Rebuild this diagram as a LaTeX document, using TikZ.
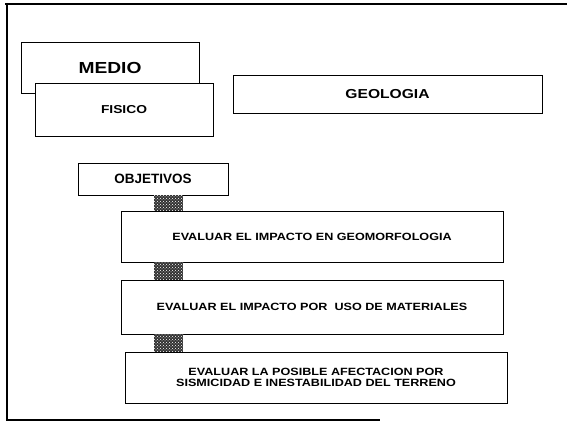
\documentclass[tikz,border=0pt]{standalone}
\usepackage{fontspec}
\setmainfont{Liberation Sans}
\newfontfamily\widebold[FakeStretch=1.2]{Liberation Sans Bold}
\newfontfamily\plainbold{Liberation Sans Bold}
\usetikzlibrary{patterns}

\tikzset{
  box/.style={draw=black,line width=0.9pt,fill=white,inner sep=0pt,align=center},
  boxtext/.style={font=\widebold\fontsize{10.5}{10.5}\selectfont},
  hatch/.style={fill=black!80,postaction={pattern=crosshatch dots,pattern color=white}}
}

\begin{document}
\begin{tikzpicture}[x=1pt,y=-1pt]
        \useasboundingbox (0,0) rectangle (570,425);

        % Frame
        \draw[line width=2.6pt] (5,4) -- (567,4);
        \draw[line width=1.8pt] (7,3) -- (7,420);
        \draw[line width=1.4pt] (6,420) -- (380,420);

        % Medio / fisico
        \node[box,minimum width=178,minimum height=51,font=\widebold\fontsize{16}{16}\selectfont] (medio) at (110,67.5) {MEDIO};
        \node[box,minimum width=178,minimum height=53,font=\widebold\fontsize{11.5}{11.5}\selectfont] (fisico) at (124,109.5) {FISICO};

        % Geologia
        \node[box,minimum width=309,minimum height=38,font=\widebold\fontsize{13}{13}\selectfont] (geologia) at (387.5,94) {GEOLOGIA};

        % Objetivos
        \node[box,minimum width=150,minimum height=32,font=\plainbold\fontsize{13.5}{13.5}\selectfont] (objetivos) at (153,179) {OBJETIVOS};

        \node[box,boxtext,minimum width=382,minimum height=51] (evalgeo) at (312,236.5) {EVALUAR EL IMPACTO EN GEOMORFOLOGIA};
        \node[box,boxtext,minimum width=382,minimum height=54] (evalmat) at (312,307) {EVALUAR EL IMPACTO POR\ \ USO DE MATERIALES};
        \node[box,boxtext,minimum width=382,minimum height=51] (evalsis) at (316,377.5) {EVALUAR LA POSIBLE AFECTACION POR\\SISMICIDAD E INESTABILIDAD DEL TERRENO};

        % Hatched links
        \fill[hatch] (objetivos.south -| 154,0) rectangle (evalgeo.north -| 183,0);
        \fill[hatch] (evalgeo.south -| 154,0) rectangle (evalmat.north -| 183,0);
        \fill[hatch] (evalmat.south -| 154,0) rectangle (evalsis.north -| 183,0);
    \end{tikzpicture}
\end{document}
